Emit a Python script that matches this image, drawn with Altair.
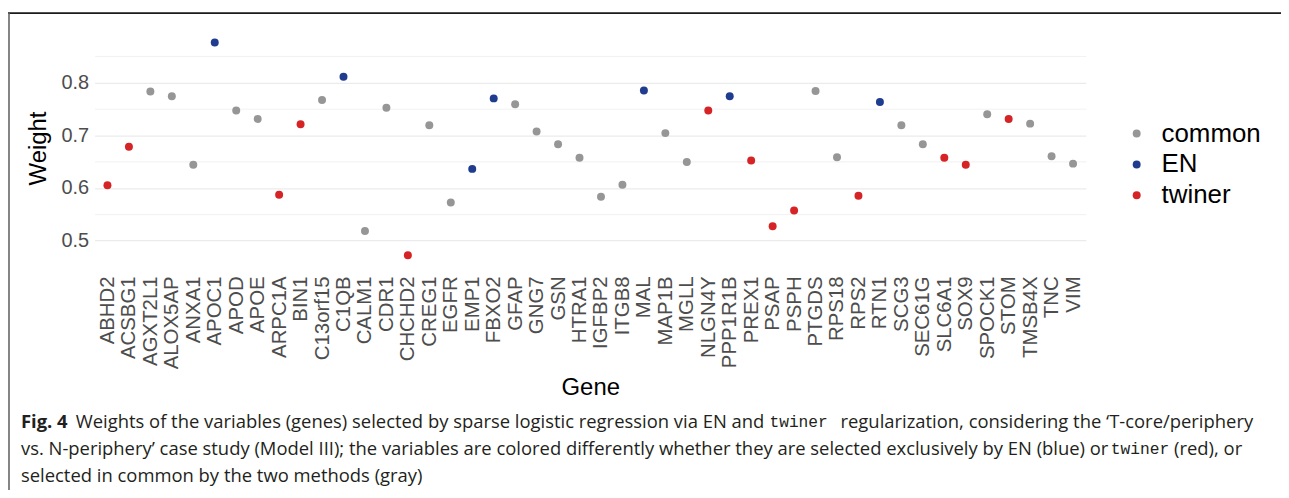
import altair as alt
import pandas as pd

genes = ["ABHD2", "ACSBG1", "AGXT2L1", "ALOX5AP", "ANXA1", "APOC1", "APOD", "APOE",
         "ARPC1A", "BIN1", "C13orf15", "C1QB", "CALM1", "CDR1", "CHCHD2", "CREG1",
         "EGFR", "EMP1", "FBXO2", "GFAP", "GNG7", "GSN", "HTRA1", "IGFBP2", "ITGB8",
         "MAL", "MAP1B", "MGLL", "NLGN4Y", "PPP1R1B", "PREX1", "PSAP", "PSPH", "PTGDS",
         "RPS18", "RPS2", "RTN1", "SCG3", "SEC61G", "SLC6A1", "SOX9", "SPOCK1", "STOM",
         "TMSB4X", "TNC", "VIM"]
weights = [0.605, 0.678, 0.783, 0.774, 0.644, 0.876, 0.747, 0.731, 0.587, 0.721,
           0.767, 0.811, 0.518, 0.752, 0.472, 0.719, 0.572, 0.636, 0.770, 0.759,
           0.707, 0.683, 0.657, 0.583, 0.606, 0.785, 0.704, 0.649, 0.747, 0.774,
           0.652, 0.527, 0.557, 0.784, 0.658, 0.585, 0.763, 0.719, 0.683, 0.657,
           0.644, 0.740, 0.731, 0.722, 0.660, 0.646]
groups = ["twiner", "twiner", "common", "common", "common", "EN", "common", "common",
          "twiner", "twiner", "common", "EN", "common", "common", "twiner", "common",
          "common", "EN", "EN", "common", "common", "common", "common", "common", "common",
          "EN", "common", "common", "twiner", "EN", "twiner", "twiner", "twiner", "common",
          "common", "twiner", "EN", "common", "common", "twiner", "twiner", "common", "twiner",
          "common", "common", "common"]
group_order = ["common", "EN", "twiner"]
group_colors = ["#969696", "#1F3C8E", "#D52326"]
y_ticks = [0.5, 0.55, 0.6, 0.65, 0.7, 0.75, 0.8, 0.85]

caption_line1 = ["Fig. 4", "Weights of the variables (genes) selected by sparse logistic regression via EN and",
                 "twiner", "regularization, considering the \u2018T-core/periphery"]
caption_line2 = ["vs. N-periphery\u2019 case study (Model III); the variables are colored differently whether they are selected exclusively by EN (blue) or",
                 "twiner", "(red), or"]
caption_line3 = ["selected in common by the two methods (gray)"]

df = pd.DataFrame({"Gene": genes, "Weight": weights, "group": groups})

FONT = "Liberation Sans"
CAP = "Open Sans"
MONO = "Liberation Mono"

points = alt.Chart(df).mark_circle(size=64, opacity=1).encode(
    x=alt.X("Gene:N", sort=genes, title="Gene",
            scale=alt.Scale(type="point", padding=0.6),
            axis=alt.Axis(labelAngle=-90, labelFontSize=20.5, labelColor="#4D4D4D",
                          labelFont=FONT, ticks=False, domain=False, labelPadding=11,
                          gridColor="#EBEBEB", gridWidth=1.2, titleFont=FONT,
                          titleFontSize=24, titleFontWeight="normal", titleColor="#000000",
                          titlePadding=7, labelOverlap=False)),
    y=alt.Y("Weight:Q", title="Weight",
            scale=alt.Scale(domain=[0.4535, 0.898], nice=False, zero=False),
            axis=alt.Axis(values=y_ticks, format=".1f",
                          labelExpr="(round(datum.value*100) % 10 == 0) ? datum.label : ''",
                          labelFontSize=20, labelColor="#4D4D4D", labelFont=FONT,
                          ticks=False, domain=False, labelPadding=6,
                          gridColor="#EBEBEB",
                          gridWidth={"condition": {"test": "round(datum.value*100) % 10 != 0", "value": 0.7},
                                     "value": 1.2},
                          titleFont=FONT, titleFontSize=24, titleFontWeight="normal",
                          titleColor="#000000", titlePadding=11)),
    color=alt.Color("group:N", scale=alt.Scale(domain=group_order, range=group_colors),
                    legend=alt.Legend(title=None, orient="none", legendX=1034, legendY=90,
                                      labelFontSize=26, labelFont=FONT, labelColor="#000000",
                                      symbolType="circle", symbolSize=64, symbolStrokeWidth=0,
                                      labelOffset=12, rowPadding=5, padding=0)),
)

one = pd.DataFrame({"k": [0]})

frame_top = alt.Chart(one).mark_rule(color="#1a1a1a", strokeWidth=1.6).encode(
    x=alt.value(-87), x2=alt.value(1200), y=alt.value(-18))
frame_left = alt.Chart(one).mark_rule(color="#666666", strokeWidth=1.6).encode(
    x=alt.value(-86), y=alt.value(-18), y2=alt.value(470))


def seg(text, x, y, font=CAP, weight="normal", align="left", size=18.5):
    return alt.Chart(pd.DataFrame({"t": [text]})).mark_text(
        font=font, fontSize=size, fontWeight=weight, align=align, baseline="middle",
        color="#231F20").encode(x=alt.value(x), y=alt.value(y), text="t:N")


caps = [
    seg(caption_line1[0], -74, 393, weight="bold"),
    seg(caption_line1[1], -19, 393),
    seg(caption_line1[2], 678, 393, font=MONO, size=16.3),
    seg(caption_line1[3], 1164, 393, align="right"),
    seg(caption_line2[0], -74, 420),
    seg(caption_line2[1], 1021, 420, font=MONO, size=16.3),
    seg(caption_line2[2], 1153, 420, align="right"),
    seg(caption_line3[0], -74, 446.7),
]

chart = alt.layer(points, frame_top, frame_left, *caps).properties(
    width=996, height=235,
    autosize=alt.AutoSizeParams(type="none"),
    padding={"left": 87, "top": 22, "right": 196, "bottom": 225},
    background="white",
).configure_view(stroke=None)

chart.save("out.html", embed_options={"renderer": "svg", "actions": False})
